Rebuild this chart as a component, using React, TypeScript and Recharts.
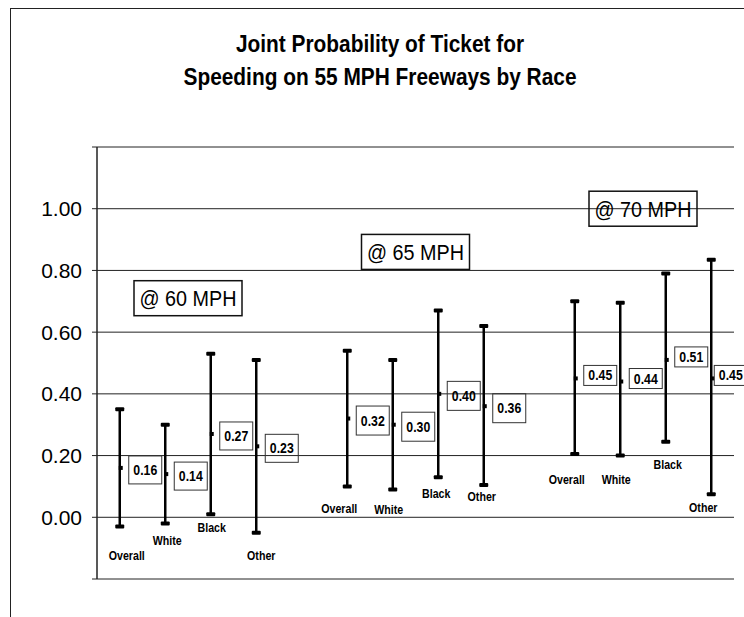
import React from 'react';
import { ComposedChart, Scatter, ErrorBar, XAxis, YAxis, CartesianGrid, ReferenceDot } from 'recharts';

const races = ['Overall', 'White', 'Black', 'Other'];
const speeds = ['@ 60 MPH', '@ 65 MPH', '@ 70 MPH'];
const meanValues = [
  [0.16, 0.14, 0.27, 0.23],
  [0.32, 0.30, 0.40, 0.36],
  [0.45, 0.44, 0.51, 0.45],
];
const lowValues = [
  [-0.03, -0.02, 0.01, -0.05],
  [0.10, 0.09, 0.13, 0.105],
  [0.205, 0.20, 0.245, 0.075],
];
const highValues = [
  [0.35, 0.30, 0.53, 0.51],
  [0.54, 0.51, 0.67, 0.62],
  [0.70, 0.695, 0.79, 0.835],
];
const speedLabelLevel = [0.71, 0.86, 1.0];
const yTicks = [-0.2, 0, 0.2, 0.4, 0.6, 0.8, 1.0, 1.2];

// hand placed label nudges (px), like the original sheet
const raceLabelNudge = [
  [[7, 28], [2, 17], [1, 13], [5, 22]],
  [[-8, 22], [-4, 19], [-2, 16], [-2, 11]],
  [[-8, 25], [-4, 23], [2, 22], [-8, 13]],
];
const boxHeight = [28, 29, 20];
const boxShift = [2, 2, -3];

const sans = "'Liberation Sans', Arial, sans-serif";

// fake "Arial Narrow" by squeezing Liberation Sans
const NarrowText = ({ x, y, size, children }: any) => (
  <text
    transform={`translate(${x},${y}) scale(0.82,1)`}
    textAnchor="middle"
    fontFamily={sans}
    fontWeight="bold"
    fontSize={size}
    fill="#000"
  >
    {children}
  </text>
);

const rows = speeds.flatMap((_, g) =>
  races.map((race, i) => ({
    x: g * 5 + i,
    g,
    i,
    race,
    mean: meanValues[g][i],
    low: lowValues[g][i],
    high: highValues[g][i],
    err: [meanValues[g][i] - lowValues[g][i], highValues[g][i] - meanValues[g][i]],
  }))
);

const MeanMark = (props: any) => {
  const { cx, cy, payload } = props;
  const { g, i, mean } = payload;
  const h = boxHeight[g];
  const left = cx + (g === 2 && i === 3 ? 3 : 9);
  const mid = cy + boxShift[g];
  return (
    <g>
      <rect x={cx - 1} y={cy - 2} width={4} height={4} fill="#000" />
      <rect x={left} y={mid - h / 2} width={33} height={h} fill="none" stroke="#333" strokeWidth={1} />
      <NarrowText x={left + 16.5} y={mid + 5} size={15}>
        {mean.toFixed(2)}
      </NarrowText>
    </g>
  );
};

const TopCap = (props: any) => {
  const { cx, cy } = props;
  return <rect x={cx - 4.5} y={cy - 2} width={9} height={4} rx={1} fill="#000" />;
};

const BottomCap = (props: any) => {
  const { cx, cy, payload } = props;
  const [dx, dy] = raceLabelNudge[payload.g][payload.i];
  return (
    <g>
      <rect x={cx - 4.5} y={cy - 2} width={9} height={4} rx={1} fill="#000" />
      <NarrowText x={cx + dx} y={cy + dy + 5} size={13}>
        {payload.race}
      </NarrowText>
    </g>
  );
};

const SpeedBox = (label: string) => (props: any) => {
  const { cx, cy } = props;
  return (
    <g>
      <rect x={cx - 54} y={cy - 17.5} width={108} height={35} fill="none" stroke="#111" strokeWidth={1.5} />
      <text
        x={cx}
        y={cy + 8}
        textAnchor="middle"
        fontFamily={sans}
        fontSize={22}
        textLength={97}
        lengthAdjust="spacingAndGlyphs"
        fill="#000"
      >
        {label}
      </text>
    </g>
  );
};

export default function App() {
  return (
    <div style={{ position: 'absolute', left: 0, top: 0, width: 744, height: 617, background: '#fff' }}>
      <div
        style={{
          position: 'absolute',
          left: 10,
          top: 8,
          width: 734,
          height: 609,
          borderLeft: '1.5px solid #222',
          borderTop: '1.5px solid #222',
        }}
      />
      <svg width={744} height={140} style={{ position: 'absolute', left: 0, top: 0 }}>
        <text x={380} y={52} textAnchor="middle" fontFamily={sans} fontWeight="bold" fontSize={23}
          textLength={288} lengthAdjust="spacingAndGlyphs" fill="#000">
          Joint Probability of Ticket for
        </text>
        <text x={380} y={85} textAnchor="middle" fontFamily={sans} fontWeight="bold" fontSize={23}
          textLength={393} lengthAdjust="spacingAndGlyphs" fill="#000">
          Speeding on 55 MPH Freeways by Race
        </text>
      </svg>
      <div style={{ position: 'absolute', left: 0, top: 0 }}>
        <ComposedChart width={744} height={617} data={rows} margin={{ top: 147, right: 10, bottom: 38, left: 0 }}>
          <CartesianGrid vertical={false} stroke="#222" strokeWidth={1} />
          <XAxis type="number" dataKey="x" domain={[-0.5, 13.5]} hide />
          <YAxis
            type="number"
            domain={[-0.2, 1.2]}
            ticks={yTicks}
            interval={0}
            width={97}
            tickSize={5}
            tickMargin={10}
            axisLine={{ stroke: '#222', strokeWidth: 1.5 }}
            tickLine={{ stroke: '#222' }}
            tick={{ fontFamily: sans, fontSize: 21, fill: '#000' }}
            tickFormatter={(v: number) => (v < -0.1 || v > 1.1 ? '' : v.toFixed(2))}
          />
          <Scatter dataKey="mean" shape={MeanMark} isAnimationActive={false}>
            <ErrorBar dataKey="err" direction="y" width={0} stroke="#000" strokeWidth={2.5} isAnimationActive={false} />
          </Scatter>
          <Scatter dataKey="high" shape={TopCap} isAnimationActive={false} />
          <Scatter dataKey="low" shape={BottomCap} isAnimationActive={false} />
          {speeds.map((s, g) => (
            <ReferenceDot key={s} x={g * 5 + 1.5} y={speedLabelLevel[g]} shape={SpeedBox(s)} />
          ))}
        </ComposedChart>
      </div>
    </div>
  );
}
